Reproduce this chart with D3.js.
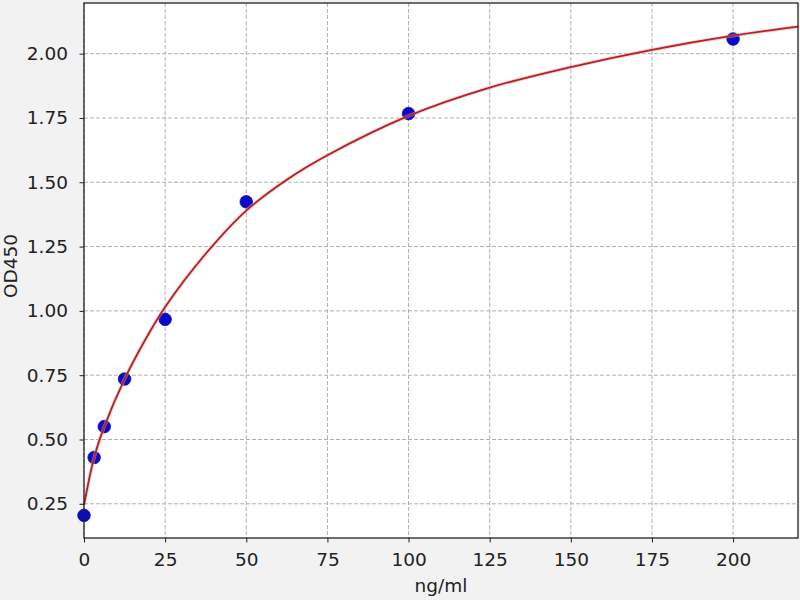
<!DOCTYPE html>
<html>
<head>
<meta charset="utf-8">
<script src="https://cdn.jsdelivr.net/npm/d3@7"></script>
<style>
  body { margin: 0; background: #f2f2f2; }
  svg { display: block; font-family: "DejaVu Sans", sans-serif; }
</style>
</head>
<body>
<svg width="800" height="600"></svg>
<script>
// standards (measured points)
const concentrations = [0, 3.125, 6.25, 12.5, 25, 50, 100, 200];
const odValues = [0.205, 0.43, 0.55, 0.735, 0.967, 1.424, 1.767, 2.057];

// fitted curve
const curveX = [0, 3.125, 6.25, 12.5, 18.75, 25, 37.5, 50, 62.5, 75, 100, 125, 150, 175, 200, 220];
const curveY = [0.245, 0.43, 0.55, 0.735, 0.885, 1.015, 1.222, 1.39, 1.51, 1.605, 1.758, 1.868, 1.948, 2.015, 2.07, 2.105];

const xTicks = [0, 25, 50, 75, 100, 125, 150, 175, 200];
const yTicks = [0.25, 0.5, 0.75, 1.0, 1.25, 1.5, 1.75, 2.0];

const margin = {left: 84, right: 2, top: 3, bottom: 62};
const width = 800, height = 600;
const fontSize = "18.5px";

const svg = d3.select("svg");

const x = d3.scaleLinear().domain([0, 220]).range([margin.left, width - margin.right]);
const y = d3.scaleLinear().domain([0.117, 2.197]).range([height - margin.bottom, margin.top]);

// plot background
svg.append("rect")
   .attr("x", margin.left)
   .attr("y", margin.top)
   .attr("width", width - margin.left - margin.right)
   .attr("height", height - margin.top - margin.bottom)
   .attr("fill", "#fff");

// grid
const grid = svg.append("g")
                .attr("stroke", "#b0b0b0")
                .attr("stroke-width", 1)
                .attr("stroke-dasharray", "4,2");

grid.selectAll(".gx")
    .data(xTicks)
    .join("line")
      .attr("x1", d => x(d)).attr("x2", d => x(d))
      .attr("y1", margin.top).attr("y2", height - margin.bottom);

grid.selectAll(".gy")
    .data(yTicks)
    .join("line")
      .attr("x1", margin.left).attr("x2", width - margin.right)
      .attr("y1", d => y(d)).attr("y2", d => y(d));

// points
svg.append("g")
   .selectAll("circle")
   .data(concentrations.map((c, i) => [c, odValues[i]]))
   .join("circle")
     .attr("cx", d => x(d[0]))
     .attr("cy", d => y(d[1]))
     .attr("r", 6.3)
     .attr("fill", "#0a0acc")
     .attr("stroke", "#1010a0")
     .attr("stroke-width", 0.8);

// fitted curve
const line = d3.line()
               .x(d => x(d[0]))
               .y(d => y(d[1]))
               .curve(d3.curveCatmullRom.alpha(0.5));

const pts = curveX.map((c, i) => [c, curveY[i]]);

svg.append("path")
   .datum(pts)
   .attr("fill", "none")
   .attr("stroke", "#f4a0a0")
   .attr("stroke-opacity", 0.5)
   .attr("stroke-width", 3.5)
   .attr("d", line);

svg.append("path")
   .datum(pts)
   .attr("fill", "none")
   .attr("stroke", "#b22222")
   .attr("stroke-width", 1.8)
   .attr("d", line);

// axes
const xAxis = svg.append("g")
                 .attr("transform", `translate(0,${height - margin.bottom})`)
                 .call(d3.axisBottom(x).tickValues(xTicks).tickSize(4.5).tickPadding(10).tickFormat(d3.format("d")));

const yAxis = svg.append("g")
                 .attr("transform", `translate(${margin.left},0)`)
                 .call(d3.axisLeft(y).tickValues(yTicks).tickSize(4.5).tickPadding(11.5).tickFormat(d3.format(".2f")));

[xAxis, yAxis].forEach(a => {
    a.select(".domain").remove();
    a.selectAll("line").attr("stroke", "#222");
    a.selectAll("text").attr("fill", "#222").style("font-size", fontSize).style("font-family", "DejaVu Sans");
});

// frame
svg.append("rect")
   .attr("x", margin.left)
   .attr("y", margin.top)
   .attr("width", width - margin.left - margin.right)
   .attr("height", height - margin.top - margin.bottom)
   .attr("fill", "none")
   .attr("stroke", "#222")
   .attr("stroke-width", 1.3);

// labels
svg.append("text")
   .attr("x", (margin.left + width - margin.right) / 2)
   .attr("y", 592)
   .attr("text-anchor", "middle")
   .attr("fill", "#222")
   .style("font-size", fontSize)
   .text("ng/ml");

svg.append("text")
   .attr("transform", "translate(17,266) rotate(-90)")
   .attr("text-anchor", "middle")
   .attr("fill", "#222")
   .style("font-size", fontSize)
   .text("OD450");
</script>
</body>
</html>
